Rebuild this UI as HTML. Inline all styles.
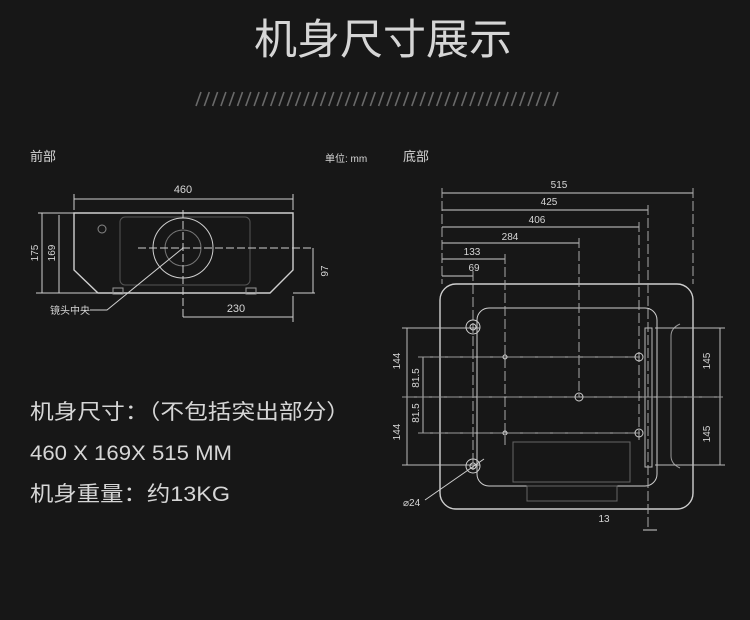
<!DOCTYPE html>
<html><head><meta charset="utf-8"><style>
html,body{margin:0;padding:0;background:#171717;}
svg{display:block}
text{font-family:"Liberation Sans","Noto Sans CJK SC",sans-serif;fill:#d6d6d6}
</style></head><body>
<svg width="750" height="620" viewBox="0 0 750 620" xmlns="http://www.w3.org/2000/svg">
<rect width="750" height="620" fill="#171717"/>
<text x="383" y="54" font-size="42" text-anchor="middle" fill="#dcdcdc" textLength="258" lengthAdjust="spacingAndGlyphs">机身尺寸展示</text>
<g stroke="#6a6a6a" stroke-width="1.6">
<path d="M196 106l5-14M204.3 106l5-14M212.6 106l5-14M220.9 106l5-14M229.2 106l5-14M237.5 106l5-14M245.8 106l5-14M254.1 106l5-14M262.4 106l5-14M270.7 106l5-14M279 106l5-14M287.3 106l5-14M295.6 106l5-14M303.9 106l5-14M312.2 106l5-14M320.5 106l5-14M328.8 106l5-14M337.1 106l5-14M345.4 106l5-14M353.7 106l5-14M362 106l5-14M370.3 106l5-14M378.6 106l5-14M386.9 106l5-14M395.2 106l5-14M403.5 106l5-14M411.8 106l5-14M420.1 106l5-14M428.4 106l5-14M436.7 106l5-14M445 106l5-14M453.3 106l5-14M461.6 106l5-14M469.9 106l5-14M478.2 106l5-14M486.5 106l5-14M494.8 106l5-14M503.1 106l5-14M511.4 106l5-14M519.7 106l5-14M528 106l5-14M536.3 106l5-14M544.6 106l5-14M552.9 106l5-14"/>
</g>
<text x="30" y="161" font-size="13">前部</text>
<text x="325" y="162" font-size="10">单位: mm</text>
<text x="403" y="161" font-size="13">底部</text>

<!-- front view -->
<g fill="none" stroke="#cfcfcf" stroke-width="1">
<path d="M74 213H293V270L270 293H98L74 270Z" stroke-width="1.4"/>
<circle cx="183" cy="248" r="30"/>
<circle cx="183" cy="248" r="18" stroke="#777"/>
<rect x="120" y="217" width="130" height="68" rx="5" stroke="#555"/>
<circle cx="102" cy="229" r="4" stroke="#888"/>
<path d="M113 288h10v6h-10zM246 288h10v6h-10z" stroke="#999"/>
<path d="M74 199H293M74 194v16M293 194v16"/>
<path d="M42 213V293M59 215V293M38 213H74M55 293H98M36 293h20"/>
<path d="M313 248V293M293 293h22"/>
<path d="M183 317H293M293 296v26"/>
<path d="M138 248H313" stroke-dasharray="8 3"/>
<path d="M183 210V320" stroke-dasharray="8 3"/>
<path d="M183 248L107 310H90"/>
</g>
<text x="183" y="193" font-size="11" text-anchor="middle">460</text>
<text x="236" y="312" font-size="11" text-anchor="middle">230</text>
<text transform="translate(38,253) rotate(-90)" font-size="10" text-anchor="middle">175</text>
<text transform="translate(55,253) rotate(-90)" font-size="10" text-anchor="middle">169</text>
<text transform="translate(328,271) rotate(-90)" font-size="10" text-anchor="middle">97</text>
<text x="50" y="314" font-size="10">镜头中央</text>

<!-- bottom view -->
<g fill="none" stroke="#cfcfcf" stroke-width="1">
<rect x="440" y="284" width="253" height="225" rx="16" stroke-width="1.4"/>
<rect x="477" y="308" width="180" height="178" rx="12"/>
<path d="M680 324q-9 4-9 12v120q0 8 9 12" stroke="#999"/>
<rect x="513" y="442" width="117" height="40" stroke="#666"/>
<rect x="527" y="486" width="90" height="15" stroke="#666"/>
<rect x="645" y="328" width="7" height="139" stroke="#bbb"/>
<path d="M442 193H693M442 210H648M442 227H639M442 243H579M442 259H505M442 276H473"/>
<path d="M442 188V284M693 188V284M648 205V530M639 222V440M579 238V397M505 254V445M473 271V470" stroke="#aaa" stroke-dasharray="10 3"/>
<path d="M407 328V465M402 328H480M402 465H480M402 397H723M423 357V433M418 357H640M418 433H640M720 328V465M655 328H725M655 465H725" stroke="#bbb"/>
<path d="M402 397H723M418 357H640M418 433H640" stroke="#999" stroke-dasharray="12 3"/>
<circle cx="473" cy="327" r="7"/><circle cx="473" cy="327" r="3"/>
<circle cx="473" cy="466" r="7"/><circle cx="473" cy="466" r="3"/>
<circle cx="639" cy="357" r="4"/><circle cx="639" cy="433" r="4"/><circle cx="579" cy="397" r="4"/>
<circle cx="505" cy="357" r="2"/><circle cx="505" cy="433" r="2"/>
<path d="M484 459L425 500" />
<path d="M643 530h14" />
</g>
<text x="559" y="188" font-size="10" text-anchor="middle">515</text>
<text x="549" y="205" font-size="10" text-anchor="middle">425</text>
<text x="537" y="223" font-size="10" text-anchor="middle">406</text>
<text x="510" y="240" font-size="10" text-anchor="middle">284</text>
<text x="472" y="255" font-size="10" text-anchor="middle">133</text>
<text x="474" y="271" font-size="10" text-anchor="middle">69</text>
<text transform="translate(400,361) rotate(-90)" font-size="10" text-anchor="middle">144</text>
<text transform="translate(400,432) rotate(-90)" font-size="10" text-anchor="middle">144</text>
<text transform="translate(419,378) rotate(-90)" font-size="10" text-anchor="middle">81.5</text>
<text transform="translate(419,413) rotate(-90)" font-size="10" text-anchor="middle">81.5</text>
<text transform="translate(710,361) rotate(-90)" font-size="10" text-anchor="middle">145</text>
<text transform="translate(710,434) rotate(-90)" font-size="10" text-anchor="middle">145</text>
<text x="604" y="522" font-size="10" text-anchor="middle">13</text>
<text x="403" y="506" font-size="10">⌀24</text>

<text x="30" y="419" font-size="21" textLength="320" lengthAdjust="spacingAndGlyphs">机身尺寸：（不包括突出部分）</text>
<text x="30" y="460" font-size="21" textLength="202" lengthAdjust="spacingAndGlyphs">460 X 169X 515 MM</text>
<text x="30" y="501" font-size="21" textLength="200" lengthAdjust="spacingAndGlyphs">机身重量：约13KG</text>
</svg>
</body></html>
